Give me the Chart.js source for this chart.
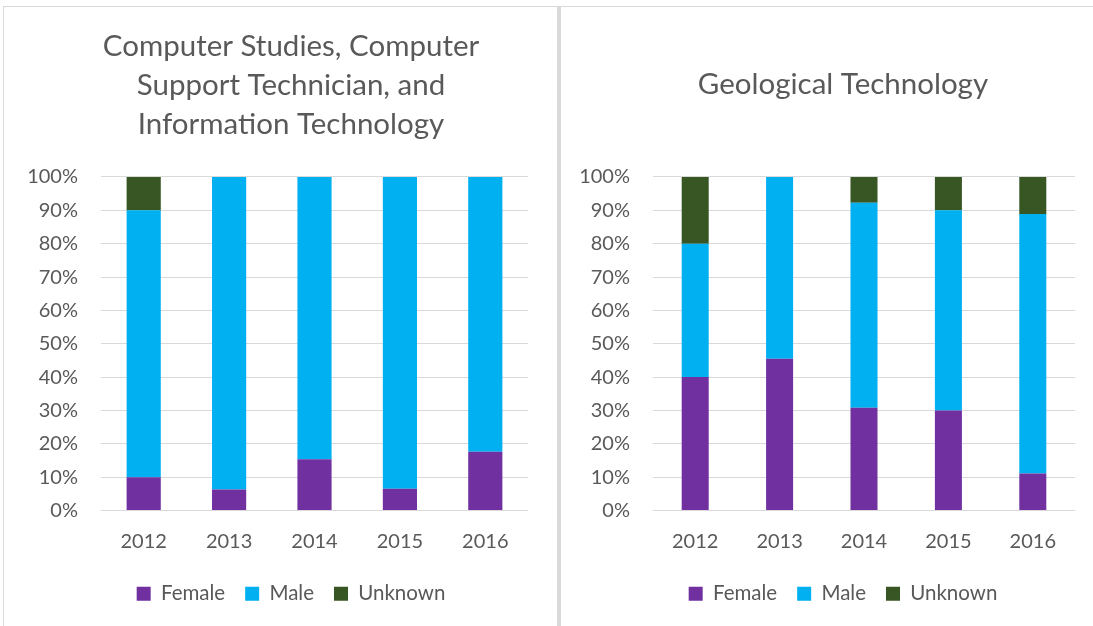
<!DOCTYPE html>
<html>
<head>
<meta charset="utf-8">
<script src="https://cdn.jsdelivr.net/npm/chart.js@4/dist/chart.umd.min.js"></script>
<style>
  html, body { margin: 0; padding: 0; background: #fff; }
  body { width: 1093px; height: 626px; position: relative; overflow: hidden; }
  .panel { position: absolute; top: 6px; height: 700px; border: 1px solid #d9d9d9; box-sizing: border-box; }
  .sep { position: absolute; left: 557px; top: 6px; width: 4px; height: 700px; background: #d9d9d9; }
  .box { position: absolute; top: 0; height: 626px; }
</style>
</head>
<body>
<div class="panel" style="left:3px; width:556px;"></div>
<div class="panel" style="left:559px; width:560px;"></div>
<div class="sep"></div>
<div class="box" style="left:0; width:557px;"><canvas id="left"></canvas></div>
<div class="box" style="left:558px; width:560px;"><canvas id="right"></canvas></div>
<script>
const years = ["2012", "2013", "2014", "2015", "2016"];
const seriesNames = ["Female", "Male", "Unknown"];
const seriesColors = ["#7030A0", "#00B0F0", "#375623"];

// Computer Studies, Computer Support Technician, and Information Technology
const csFemale = [10, 6.3, 15.4, 6.5, 17.6];
const csMale = [80, 93.7, 84.6, 93.5, 82.4];
const csUnknown = [10, 0, 0, 0, 0];

// Geological Technology
const geoFemale = [40, 45.5, 30.8, 30, 11.1];
const geoMale = [40, 54.5, 61.5, 60, 77.8];
const geoUnknown = [20, 0, 7.7, 10, 11.1];

const yTicks = [0, 10, 20, 30, 40, 50, 60, 70, 80, 90, 100];

const textColor = "#595959";
const fontFamily = "Lato, 'Open Sans', sans-serif";

function makeChart(id, title, values, opts) {
    const ctx = document.getElementById(id);
    const datasets = values.map((vals, i) => ({
        label: seriesNames[i],
        data: vals,
        backgroundColor: seriesColors[i],
        borderWidth: 0,
        barPercentage: opts.barPct,
        categoryPercentage: 1.0,
    }));

    return new Chart(ctx, {
        type: "bar",
        data: { labels: years, datasets: datasets },
        options: {
            responsive: true,
            maintainAspectRatio: false,
            animation: false,
            layout: {
                padding: { left: opts.padLeft, right: opts.padRight, top: 0, bottom: 12 },
            },
            plugins: {
                title: {
                    display: true,
                    text: title,
                    color: textColor,
                    font: { family: fontFamily, size: 29.5, weight: "normal", lineHeight: 1.322 },
                    padding: opts.titlePad,
                },
                legend: {
                    position: "bottom",
                    labels: {
                        color: textColor,
                        font: { family: fontFamily, size: 20.5 },
                        boxWidth: 14,
                        boxHeight: 14,
                        padding: 20,
                    },
                },
                tooltip: { enabled: false },
            },
            scales: {
                x: {
                    stacked: true,
                    grid: { display: false, drawTicks: false },
                    border: { display: false },
                    ticks: { color: textColor, font: { family: fontFamily, size: 20 }, padding: 19 },
                    afterFit: (scale) => { scale.height = 53; },
                },
                y: {
                    stacked: true,
                    min: 0,
                    max: 100,
                    afterBuildTicks: (scale) => { scale.ticks = yTicks.map((v) => ({ value: v })); },
                    grid: { color: "#d9d9d9", lineWidth: 1, drawTicks: false },
                    border: { display: false },
                    ticks: {
                        color: textColor,
                        font: { family: fontFamily, size: 20 },
                        padding: 23,
                        callback: (v) => v + "%",
                    },
                    afterFit: (scale) => { scale.width = opts.yWidth; },
                },
                // empty right-hand gutter so title and legend centre like the original
                gutter: {
                    position: "right",
                    display: true,
                    grid: { display: false, drawTicks: false },
                    border: { display: false },
                    ticks: { display: false },
                    afterFit: (scale) => { scale.width = opts.gutter; },
                },
            },
        },
    });
}

makeChart("left",
    ["Computer Studies, Computer", "Support Technician, and", "Information Technology"],
    [csFemale, csMale, csUnknown],
    { barPct: 0.4, padLeft: 25, padRight: 0, yWidth: 76, gutter: 29, titlePad: { top: 27, bottom: 33 } });

makeChart("right",
    "Geological Technology",
    [geoFemale, geoMale, geoUnknown],
    { barPct: 0.32, padLeft: 18, padRight: 8, yWidth: 77, gutter: 35, titlePad: { top: 65, bottom: 73 } });
</script>
</body>
</html>
